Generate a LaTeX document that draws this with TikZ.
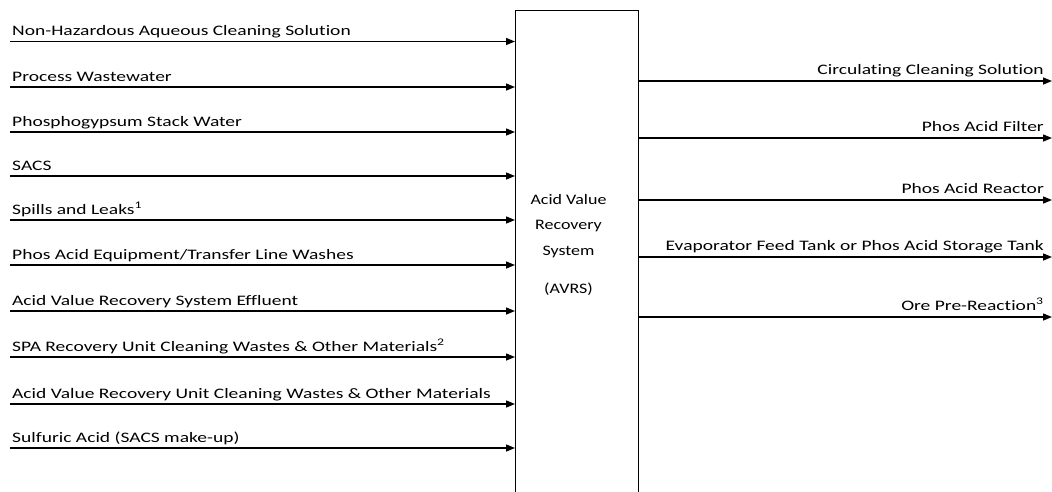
\documentclass[tikz,border=0pt]{standalone}
\usepackage{fontspec}
\usepackage{graphicx}
\setmainfont[Ligatures=NoCommon]{Carlito}
\usetikzlibrary{arrows.meta}

% Schrift etwas in die Breite gezogen
\newcommand{\breit}[1]{\scalebox{1.345}[1]{#1}}
\newcommand{\kastenbreit}[1]{\scalebox{1.24}[1]{#1}}

\tikzset{
	fluss/.style={line width=1.4pt, -{Triangle[length=9pt,width=7pt]}},
	eingang/.style={anchor=base west, inner sep=0pt, font=\fontsize{14.5}{17}\selectfont},
	ausgang/.style={anchor=base east, inner sep=0pt, font=\fontsize{14.5}{17}\selectfont},
}

\begin{document}
\begin{tikzpicture}[x=1pt, y=-1pt]
			% Rahmen des Bildes festlegen
			\useasboundingbox (0,0) rectangle (1052,491);
			
			% Zeichnet den Kasten der Anlage (reicht bis unter den Rand)
			\node[draw, line width=1.2pt, minimum width=123pt, minimum height=495pt, inner sep=0pt, anchor=north west] (avrs) at (515,10) {};
			\node[align=center, font=\fontsize{14.5}{25.5}\selectfont] (avrstext) at (568.5,226) {\kastenbreit{Acid Value}\\\kastenbreit{Recovery}\\\kastenbreit{System}};
			\node[font=\fontsize{14.5}{17}\selectfont] (kurz) at (568.5,289) {\kastenbreit{(AVRS)}};
			
			% Zeichnet die Startpunkte der Zuflüsse
			\coordinate (ein1) at (10,41.5);
			\coordinate (ein2) at (10,87);
			\coordinate (ein3) at (10,132);
			\coordinate (ein4) at (10,176);
			\coordinate (ein5) at (10,220);
			\coordinate (ein6) at (10,265);
			\coordinate (ein7) at (10,311);
			\coordinate (ein8) at (10,357);
			\coordinate (ein9) at (10,404);
			\coordinate (ein10) at (10,448);
			
			% Zeichnet die Beschriftungen der Zuflüsse
			\node[eingang] (txt1) at ([shift={(2,-6)}]ein1) {\breit{Non-Hazardous Aqueous Cleaning Solution}};
			\node[eingang] (txt2) at ([shift={(2,-6)}]ein2) {\breit{Process Wastewater}};
			\node[eingang] (txt3) at ([shift={(2,-6)}]ein3) {\breit{Phosphogypsum Stack Water}};
			\node[eingang] (txt4) at ([shift={(2,-6)}]ein4) {\breit{SACS}};
			\node[eingang] (txt5) at ([shift={(2,-6)}]ein5) {\breit{Spills and Leaks\textsuperscript{1}}};
			\node[eingang] (txt6) at ([shift={(2,-6)}]ein6) {\breit{Phos Acid Equipment/Transfer Line Washes}};
			\node[eingang] (txt7) at ([shift={(2,-6)}]ein7) {\breit{Acid Value Recovery System Effluent}};
			\node[eingang] (txt8) at ([shift={(2,-6)}]ein8) {\breit{SPA Recovery Unit Cleaning Wastes \& Other Materials\textsuperscript{2}}};
			\node[eingang] (txt9) at ([shift={(2,-6)}]ein9) {\breit{Acid Value Recovery Unit Cleaning Wastes \& Other Materials}};
			\node[eingang] (txt10) at ([shift={(2,-6)}]ein10) {\breit{Sulfuric Acid (SACS make-up)}};
			
			% Zeichnet die Pfeile der Zuflüsse bis an den Kasten
			\draw[fluss] (ein1) -- (ein1 -| avrs.west);
			\draw[fluss] (ein2) -- (ein2 -| avrs.west);
			\draw[fluss] (ein3) -- (ein3 -| avrs.west);
			\draw[fluss] (ein4) -- (ein4 -| avrs.west);
			\draw[fluss] (ein5) -- (ein5 -| avrs.west);
			\draw[fluss] (ein6) -- (ein6 -| avrs.west);
			\draw[fluss] (ein7) -- (ein7 -| avrs.west);
			\draw[fluss] (ein8) -- (ein8 -| avrs.west);
			\draw[fluss] (ein9) -- (ein9 -| avrs.west);
			\draw[fluss] (ein10) -- (ein10 -| avrs.west);
			
			% Zeichnet die Endpunkte der Abflüsse
			\coordinate (aus1) at (1052,81);
			\coordinate (aus2) at (1052,138);
			\coordinate (aus3) at (1052,200);
			\coordinate (aus4) at (1052,257);
			\coordinate (aus5) at (1052,317);
			
			% Zeichnet die Beschriftungen der Abflüsse
			\node[ausgang] (ziel1) at ([shift={(-8,-7)}]aus1) {\breit{Circulating Cleaning Solution}};
			\node[ausgang] (ziel2) at ([shift={(-8,-7)}]aus2) {\breit{Phos Acid Filter}};
			\node[ausgang] (ziel3) at ([shift={(-8,-7)}]aus3) {\breit{Phos Acid Reactor}};
			\node[ausgang] (ziel4) at ([shift={(-8,-7)}]aus4) {\breit{Evaporator Feed Tank or Phos Acid Storage Tank}};
			\node[ausgang] (ziel5) at ([shift={(-8,-7)}]aus5) {\breit{Ore Pre-Reaction\textsuperscript{3}}};
			
			% Zeichnet die Pfeile der Abflüsse vom Kasten weg
			\draw[fluss] (aus1 -| avrs.east) -- (aus1);
			\draw[fluss] (aus2 -| avrs.east) -- (aus2);
			\draw[fluss] (aus3 -| avrs.east) -- (aus3);
			\draw[fluss] (aus4 -| avrs.east) -- (aus4);
			\draw[fluss] (aus5 -| avrs.east) -- (aus5);
\end{tikzpicture}
\end{document}
